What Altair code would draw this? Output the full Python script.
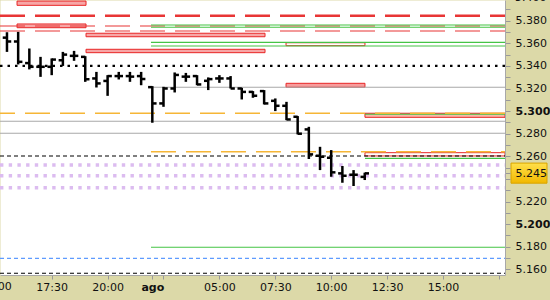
import altair as alt
import pandas as pd

# ---------------- data ----------------
BAR_IDX = list(range(-4, 29))
OPEN = [5.3650, 5.3616, 5.3425, 5.3392, 5.3392, 5.3450, 5.3489, 5.3480, 5.3289, 5.3267,
        5.3310, 5.3310, 5.3310, 5.3212, 5.3068, 5.3200, 5.3305, 5.3310, 5.3268, 5.3289,
        5.3289, 5.3200, 5.3170, 5.3177, 5.3091, 5.3047, 5.2950, 5.2838, 5.2605, 5.2587,
        5.2449, 5.2437, 5.2418]
HIGH = [5.3698, 5.3701, 5.3554, 5.3480, 5.3466, 5.3524, 5.3533, 5.3486, 5.3347, 5.3318,
        5.3347, 5.3347, 5.3347, 5.3221, 5.3215, 5.3342, 5.3338, 5.3318, 5.3298, 5.3318,
        5.3310, 5.3206, 5.3177, 5.3186, 5.3112, 5.3082, 5.2956, 5.2861, 5.2684, 5.2655,
        5.2514, 5.2478, 5.2455]
LOW = [5.3524, 5.3413, 5.3369, 5.3303, 5.3318, 5.3400, 5.3445, 5.3259, 5.3209, 5.3135,
       5.3280, 5.3259, 5.3229, 5.2897, 5.3038, 5.3165, 5.3259, 5.3229, 5.3186, 5.3250,
       5.3200, 5.3103, 5.3118, 5.3059, 5.3000, 5.2920, 5.2794, 5.2576, 5.2478, 5.2419,
       5.2366, 5.2337, 5.2390]
CLOSE = [5.3616, 5.3436, 5.3392, 5.3392, 5.3456, 5.3500, 5.3489, 5.3282, 5.3245, 5.3310,
         5.3310, 5.3305, 5.3284, 5.3068, 5.3200, 5.3320, 5.3305, 5.3236, 5.3283, 5.3289,
         5.3200, 5.3170, 5.3136, 5.3068, 5.3047, 5.2926, 5.2800, 5.2617, 5.2596, 5.2458,
         5.2428, 5.2437, 5.2449]

X_MIN, X_MAX = -4.624, 40.545
Y_MIN, Y_MAX = 5.15496, 5.39832
SESSION_START = 8.88
LATE_START = 20.96
LAST_START = 28.02

X_TICKS = [-5, 0, 5, 9, 10, 15, 20, 25, 30, 35, 40]
X_LABELS = ["15:00", "17:30", "20:00", "ago", "", "05:00", "07:30", "10:00", "12:30", "15:00", ""]
Y_TICKS = [5.160, 5.170, 5.180, 5.190, 5.200, 5.210, 5.220, 5.230, 5.240, 5.245, 5.250,
           5.260, 5.270, 5.280, 5.290, 5.300, 5.310, 5.320, 5.330, 5.340, 5.350, 5.360,
           5.370, 5.380, 5.390, 5.400]
PRICE_BOX = [5.2540, 5.2362]
# labels that fall just outside the plot range (partly cut off in the original)
EDGE_X_LABEL = {"x": [-5], "text": ["15:00"]}
EDGE_Y_LABEL = {"y": [5.400], "text": ["5.400"]}

# level lines
RED_THICK_Y = [5.3844]
RED_THIN_Y = [5.3753, 5.3709]
GREEN_Y = [5.3762, 5.3742, 5.3609, 5.3576, 5.2972, 5.2582, 5.1795]
GREEN_X1 = [SESSION_START, SESSION_START, SESSION_START, SESSION_START, LAST_START, LAST_START, SESSION_START]
GRAY_Y = [5.3211, 5.2910, 5.2804]
GRAY_X1 = [SESSION_START, X_MIN, X_MIN]
ORANGE_FULL_Y = [5.2981]
ORANGE_SESSION_Y = [5.2641]
BLACK_DOT_Y = [5.3400]
BLACK_DASH_Y = [5.2603, 5.1565]
BLUE_DASH_Y = [5.1697]
LAVENDER_Y = [5.2523, 5.2428, 5.2322]

# zones (boxes)
BOX_X1 = [-3.10, -3.10, 3.07, 3.07, LATE_START, LATE_START, LAST_START, LAST_START]
BOX_X2 = [3.07, 3.07, 19.08, 19.08, LAST_START, LAST_START, X_MAX, X_MAX]
BOX_TOP = [5.3974, 5.3771, 5.3689, 5.3547, 5.3605, 5.3246, 5.2981, 5.2632]
BOX_BOT = [5.3936, 5.3738, 5.3658, 5.3517, 5.3579, 5.3211, 5.2945, 5.2603]
BOX_FILL = ["#f7a6a6", "#f7a6a6", "#f7a6a6", "#f7a6a6", "#ffffff", "#f79c9c", "#f9b9a9", "#ffffff"]

# ---------------- chart ----------------
xs = alt.Scale(domain=[X_MIN, X_MAX], nice=False, zero=False)
ys = alt.Scale(domain=[Y_MIN, Y_MAX], nice=False, zero=False)
FONT = "DejaVu Sans"
LABEL_COLOR = "#111111"

x_label_expr = ("[" + ",".join("'%s'" % s for s in X_LABELS) + "][indexof(["
                + ",".join(str(v) for v in X_TICKS) + "], datum.value)]")
y_label_expr = ("((round(datum.value*1000) % 20 == 0 && round(datum.value*1000) != 5240) "
                "|| round(datum.value*1000) == 5245) ? format(datum.value, '.3f') : ''")

x_axis = alt.Axis(values=X_TICKS, labelExpr=x_label_expr, title=None, grid=False,
                  tickSize=4, tickColor="#999999", domainColor="#a8a8a8",
                  labelFont=FONT, labelFontSize=11, labelColor=LABEL_COLOR,
                  labelPadding=2, labelOverlap=False, labelFlush=False,
                  labelFontWeight={"condition": {"test": "datum.value == 9", "value": "bold"},
                                   "value": "normal"})
y_axis = alt.Axis(orient="right", values=Y_TICKS, labelExpr=y_label_expr, title=None,
                  grid=False, tickSize=5, tickColor="#999999", domainColor="#a8a8a8",
                  labelFont=FONT, labelFontSize=11, labelColor=LABEL_COLOR,
                  labelPadding=5, labelOverlap=False, labelFlush=False, zindex=1,
                  labelFontWeight={"condition": {"test": "round(datum.value*1000) == 5300 || round(datum.value*1000) == 5200",
                                                 "value": "bold"}, "value": "normal"})


def rules(ylist, x1list, color, width, dash=None, offset=0, cap="butt"):
    df = pd.DataFrame({"y": ylist, "x1": x1list, "x2": [X_MAX] * len(ylist)})
    kw = dict(color=color, strokeWidth=width, strokeCap=cap)
    if dash is not None:
        kw["strokeDash"] = dash
        kw["strokeDashOffset"] = offset
    return alt.Chart(df).mark_rule(**kw).encode(
        x=alt.X("x1:Q", scale=xs, axis=x_axis),
        x2="x2:Q",
        y=alt.Y("y:Q", scale=ys, axis=y_axis),
    )


boxes = alt.Chart(pd.DataFrame({"x1": BOX_X1, "x2": BOX_X2, "top": BOX_TOP,
                                "bot": BOX_BOT, "fill": BOX_FILL})).mark_rect(
    stroke="#e82626", strokeWidth=1).encode(
    x=alt.X("x1:Q", scale=xs, axis=x_axis), x2="x2:Q",
    y=alt.Y("top:Q", scale=ys, axis=y_axis), y2="bot:Q",
    fill=alt.Fill("fill:N", scale=None),
)

lines = [
    rules(RED_THIN_Y, [X_MIN] * 2, "#e83535", 1.2, [25, 10]),
    rules(RED_THICK_Y, [X_MIN], "#e83535", 2.6, [25, 10]),
    rules(GREEN_Y, GREEN_X1, "#45c445", 1.2),
    rules(GRAY_Y, GRAY_X1, "#a9a9a9", 1.2),
    rules(ORANGE_FULL_Y, [X_MIN], "#f6b636", 1.5, [25, 10], 10),
    rules(ORANGE_SESSION_Y, [SESSION_START], "#f6b636", 1.5, [25, 10]),
    rules(BLACK_DOT_Y, [X_MIN], "#000000", 2.2, [2.5, 5]),
    rules(BLACK_DASH_Y, [X_MIN] * 2, "#000000", 1.1, [4, 3]),
    rules(BLUE_DASH_Y, [X_MIN], "#5e9bff", 1.1, [4, 3]),
    rules(LAVENDER_Y, [X_MIN] * 3, "#dcbcf0", 3.4, [3.4, 5.3]),
]

bars_df = pd.DataFrame({"i": BAR_IDX, "o": OPEN, "h": HIGH, "l": LOW, "c": CLOSE})
bars_df["io"] = bars_df["i"] - 0.38
bars_df["ic"] = bars_df["i"] + 0.38

bar_base = alt.Chart(bars_df)
verticals = bar_base.mark_rule(color="black", strokeWidth=2.5).encode(
    x=alt.X("i:Q", scale=xs, axis=x_axis),
    y=alt.Y("l:Q", scale=ys, axis=y_axis), y2="h:Q")
opens = bar_base.mark_rule(color="black", strokeWidth=2.5).encode(
    x=alt.X("io:Q", scale=xs, axis=x_axis), x2="i:Q",
    y=alt.Y("o:Q", scale=ys, axis=y_axis))
closes = bar_base.mark_rule(color="black", strokeWidth=2.5).encode(
    x=alt.X("i:Q", scale=xs, axis=x_axis), x2="ic:Q",
    y=alt.Y("c:Q", scale=ys, axis=y_axis))

price_box = alt.Chart(pd.DataFrame({"y": [PRICE_BOX[0]], "y2": [PRICE_BOX[1]]})).mark_rect(
    fill=alt.Gradient(gradient="linear", x1=0, x2=0, y1=0, y2=1,
                      stops=[alt.GradientStop(color="#ffe04a", offset=0),
                             alt.GradientStop(color="#f2b800", offset=1)]),
    stroke="#d8a400", strokeWidth=1).encode(
    x=alt.value(511), x2=alt.value(547),
    y=alt.Y("y:Q", scale=ys, axis=y_axis), y2="y2:Q")

edge_x = alt.Chart(pd.DataFrame(EDGE_X_LABEL)).mark_text(
    font=FONT, fontSize=11, color=LABEL_COLOR, align="center", baseline="top").encode(
    x=alt.X("x:Q", scale=xs, axis=x_axis), y=alt.value(281), text="text:N")
edge_y = alt.Chart(pd.DataFrame(EDGE_Y_LABEL)).mark_text(
    font=FONT, fontSize=11, color=LABEL_COLOR, align="left", baseline="middle").encode(
    y=alt.Y("y:Q", scale=ys, axis=y_axis), x=alt.value(515), text="text:N")

chart = alt.layer(boxes, *lines, verticals, opens, closes, price_box, edge_x, edge_y).properties(
    width=505, height=275,
    autosize=alt.AutoSizeParams(type="none"),
    padding={"left": 0, "top": 0, "right": 45, "bottom": 25},
    background="#dcd9a8",
).configure_view(fill="white", stroke="transparent")

chart.save("out.html", embed_options={"renderer": "svg", "actions": False})
